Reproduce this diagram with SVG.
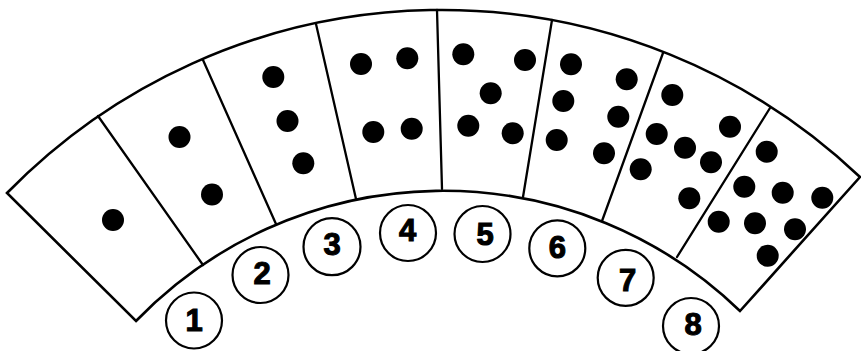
<svg xmlns="http://www.w3.org/2000/svg" width="861" height="351" viewBox="0 0 861 351">
  <style>
    .edge { fill: none; stroke: #000; stroke-width: 2.6; stroke-linejoin: miter; stroke-linecap: round; }
    .div { fill: none; stroke: #000; stroke-width: 2.3; stroke-linecap: round; }
    .dot { fill: #000; }
    .ring { fill: #fff; stroke: #000; stroke-width: 2.2; }
    .num { font-family: "Liberation Sans", Arial, sans-serif; font-weight: bold; font-size: 31px; fill: #000; stroke: #000; stroke-width: 1.1; text-anchor: middle; }
  </style>
  <rect width="861" height="351" fill="#fff"/>
  <g id="fan">
    <path class="edge" d="M 7,193 A 607.5 607.5 0 0 1 860,177 L 740,311 A 427 427 0 0 0 136,321 Z"/>
  </g>
  <g id="connectors" class="div">
    <line x1="98" y1="116" x2="203" y2="265"/>
    <line x1="203" y1="60" x2="276" y2="224"/>
    <line x1="316" y1="24" x2="356" y2="199"/>
    <line x1="437" y1="10" x2="442" y2="189"/>
    <line x1="552" y1="20" x2="523" y2="197"/>
    <line x1="663" y1="53" x2="602" y2="221"/>
    <line x1="770" y1="108" x2="677" y2="257"/>
  </g>
  <g id="sector1" class="dot">
    <circle cx="113" cy="220" r="11"/>
  </g>
  <g id="sector2" class="dot">
    <circle cx="179.5" cy="137" r="11"/>
    <circle cx="212" cy="194.5" r="11"/>
  </g>
  <g id="sector3" class="dot">
    <circle cx="273.3" cy="77" r="11"/>
    <circle cx="287.5" cy="121" r="11"/>
    <circle cx="303.3" cy="163.3" r="11"/>
  </g>
  <g id="sector4" class="dot">
    <circle cx="361" cy="64" r="11"/>
    <circle cx="407.3" cy="58.3" r="11"/>
    <circle cx="373.3" cy="132" r="11"/>
    <circle cx="411.7" cy="128.7" r="11"/>
  </g>
  <g id="sector5" class="dot">
    <circle cx="463.3" cy="54.3" r="11"/>
    <circle cx="525" cy="60" r="11"/>
    <circle cx="490.7" cy="93.3" r="11"/>
    <circle cx="468.3" cy="125.7" r="11"/>
    <circle cx="512.7" cy="133.3" r="11"/>
  </g>
  <g id="sector6" class="dot">
    <circle cx="571" cy="64.3" r="11"/>
    <circle cx="626.7" cy="79.3" r="11"/>
    <circle cx="563.3" cy="101" r="11"/>
    <circle cx="618.3" cy="116.7" r="11"/>
    <circle cx="556.7" cy="140" r="11"/>
    <circle cx="604" cy="153.3" r="11"/>
  </g>
  <g id="sector7" class="dot">
    <circle cx="672.3" cy="95" r="11"/>
    <circle cx="656.7" cy="134" r="11"/>
    <circle cx="640.7" cy="169.3" r="11"/>
    <circle cx="685" cy="147.7" r="11"/>
    <circle cx="730" cy="126.7" r="11"/>
    <circle cx="711" cy="162.3" r="11"/>
    <circle cx="689.3" cy="198.3" r="11"/>
  </g>
  <g id="sector8" class="dot">
    <circle cx="766.7" cy="151.7" r="11"/>
    <circle cx="744.3" cy="186.7" r="11"/>
    <circle cx="782.7" cy="192.7" r="11"/>
    <circle cx="822.3" cy="197.7" r="11"/>
    <circle cx="718.7" cy="221.7" r="11"/>
    <circle cx="755" cy="223.3" r="11"/>
    <circle cx="795" cy="229.3" r="11"/>
    <circle cx="767.7" cy="255.7" r="11"/>
  </g>
  <g id="label1"><circle class="ring" cx="194" cy="320.5" r="28"/><text class="num" x="194" y="330.5">1</text></g>
  <g id="label2"><circle class="ring" cx="260.5" cy="275" r="28"/><text class="num" x="262" y="283.5">2</text></g>
  <g id="label3"><circle class="ring" cx="332" cy="246.7" r="28.5"/><text class="num" x="332.2" y="255">3</text></g>
  <g id="label4"><circle class="ring" cx="408" cy="233" r="28"/><text class="num" x="407.5" y="240.5">4</text></g>
  <g id="label5"><circle class="ring" cx="482.5" cy="234" r="28"/><text class="num" x="485" y="245">5</text></g>
  <g id="label6"><circle class="ring" cx="557.3" cy="248.3" r="28"/><text class="num" x="557.3" y="258">6</text></g>
  <g id="label7"><circle class="ring" cx="625.7" cy="277.8" r="28"/><text class="num" x="627.5" y="290.5">7</text></g>
  <g id="label8"><circle class="ring" cx="691" cy="326" r="28"/><text class="num" x="693" y="334.5">8</text></g>
</svg>
